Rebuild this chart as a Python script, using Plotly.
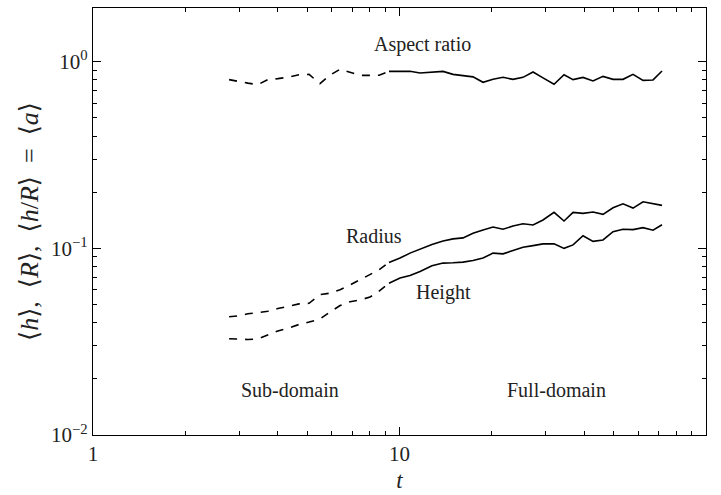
import plotly.graph_objects as go

# time values
t_sub = [2.78, 3.00, 3.20, 3.45, 3.72, 4.01, 4.36, 4.70, 5.07, 5.50, 5.93,
         6.40, 6.90, 7.43, 8.01, 8.58, 9.24]
t_full = [9.24, 10.04, 10.82, 11.67, 12.76, 13.87, 14.95, 16.12, 17.37, 18.73,
          20.19, 21.76, 23.46, 25.29, 27.27, 29.39, 31.93, 34.42, 36.83, 39.70,
          42.80, 46.13, 49.74, 53.61, 57.80, 62.31, 67.17, 71.86]

aspect_sub = [0.802, 0.782, 0.768, 0.754, 0.802, 0.812, 0.827, 0.852, 0.856,
              0.763, 0.847, 0.912, 0.874, 0.845, 0.845, 0.847, 0.888]
aspect_full = [0.888, 0.892, 0.890, 0.871, 0.879, 0.888, 0.856, 0.839, 0.830,
               0.776, 0.805, 0.825, 0.805, 0.825, 0.881, 0.819, 0.757, 0.852,
               0.802, 0.824, 0.789, 0.835, 0.805, 0.805, 0.856, 0.795, 0.799,
               0.892]

radius_sub = [0.0430, 0.0435, 0.0446, 0.0453, 0.0460, 0.0476, 0.0492, 0.0504,
              0.0508, 0.0565, 0.0575, 0.0601, 0.0637, 0.0679, 0.0718, 0.0768,
              0.0841]
radius_full = [0.0841, 0.0887, 0.0943, 0.0994, 0.1050, 0.1096, 0.1124, 0.1138,
               0.1206, 0.1255, 0.1302, 0.1266, 0.1318, 0.1356, 0.1335, 0.1419,
               0.1560, 0.1402, 0.1560, 0.1541, 0.1565, 0.1522, 0.1651, 0.1734,
               0.1644, 0.1777, 0.1742, 0.1699]

height_sub = [0.0328, 0.0325, 0.0325, 0.0327, 0.0344, 0.0361, 0.0375, 0.0391,
              0.0403, 0.0418, 0.0456, 0.0494, 0.0518, 0.0529, 0.0548, 0.0590,
              0.0651]
height_full = [0.0651, 0.0694, 0.0716, 0.0752, 0.0807, 0.0834, 0.0837, 0.0844,
               0.0861, 0.0887, 0.0943, 0.0935, 0.0973, 0.1015, 0.1035, 0.1057,
               0.1057, 0.1000, 0.1044, 0.1169, 0.1090, 0.1110, 0.1229, 0.1266,
               0.1260, 0.1291, 0.1251, 0.1339]

x_tickvals = [1, 10, 100]
x_ticktext = ["1", "10", "100"]
y_tickvals = [0.01, 0.1, 1]
y_ticktext = ["10<sup>\u22122</sup>", "10<sup>\u22121</sup>", "10<sup>0</sup>"]
x_minor = [2, 3, 4, 5, 6, 7, 8, 9, 20, 30, 40, 50, 60, 70, 80, 90]
y_minor = [0.02, 0.03, 0.04, 0.05, 0.06, 0.07, 0.08, 0.09,
           0.2, 0.3, 0.4, 0.5, 0.6, 0.7, 0.8, 0.9, 2]

FONT = "Liberation Serif, Times New Roman, DejaVu Serif, serif"
TXT = "#222222"

fig = go.Figure()
for ts, ys, tf, yf in [(t_sub, aspect_sub, t_full, aspect_full),
                       (t_sub, radius_sub, t_full, radius_full),
                       (t_sub, height_sub, t_full, height_full)]:
    fig.add_trace(go.Scatter(x=ts, y=ys, mode="lines",
                             line=dict(color="black", width=1.6, dash="8px,8px"),
                             showlegend=False, hoverinfo="skip"))
    fig.add_trace(go.Scatter(x=tf, y=yf, mode="lines",
                             line=dict(color="black", width=1.6),
                             showlegend=False, hoverinfo="skip"))

labels = [("Aspect ratio", 422, 44), ("Radius", 374, 236), ("Height", 443, 293),
          ("Sub-domain", 290, 391), ("Full-domain", 556, 391)]
for text, px, py in labels:
    fig.add_annotation(x=(px - 93) / 306.5, y=(61 - py) / 187.5, xref="x", yref="y",
                       text=text, showarrow=False,
                       font=dict(family=FONT, size=20, color=TXT))

axis_common = dict(type="log", showgrid=False, zeroline=False, showline=True,
                   linecolor="black", linewidth=1.2, mirror="allticks",
                   ticks="inside", ticklen=8, tickwidth=1, tickcolor="black",
                   tickmode="array",
                   tickfont=dict(family=FONT, size=21, color=TXT))

ES = "\u2002"
y_title = ("\u27e8<i>h</i>\u27e9," + ES + "\u27e8<i>R</i>\u27e9," + ES +
           "\u27e8<i>h</i>/<i>R</i>\u27e9" + ES + "=" + ES + "\u27e8<i>a</i>\u27e9")

fig.update_xaxes(**axis_common, range=[0, 2], tickvals=x_tickvals, ticktext=x_ticktext,
                 minor=dict(tickmode="array", tickvals=x_minor, ticks="inside",
                            ticklen=4, tickwidth=1, tickcolor="black", showgrid=False),
                 title=dict(text="<i>t</i>", font=dict(family=FONT, size=23, color=TXT),
                            standoff=6))
fig.update_yaxes(**axis_common, range=[-2, 0.288], tickvals=y_tickvals, ticktext=y_ticktext,
                 minor=dict(tickmode="array", tickvals=y_minor, ticks="inside",
                            ticklen=4, tickwidth=1, tickcolor="black", showgrid=False),
                 title=dict(text=y_title,
                            font=dict(family=FONT, size=26, color=TXT), standoff=4))

fig.update_layout(width=721, height=495, margin=dict(l=93, r=15, t=7, b=59),
                  paper_bgcolor="white", plot_bgcolor="white")

fig.write_html("out.html")
